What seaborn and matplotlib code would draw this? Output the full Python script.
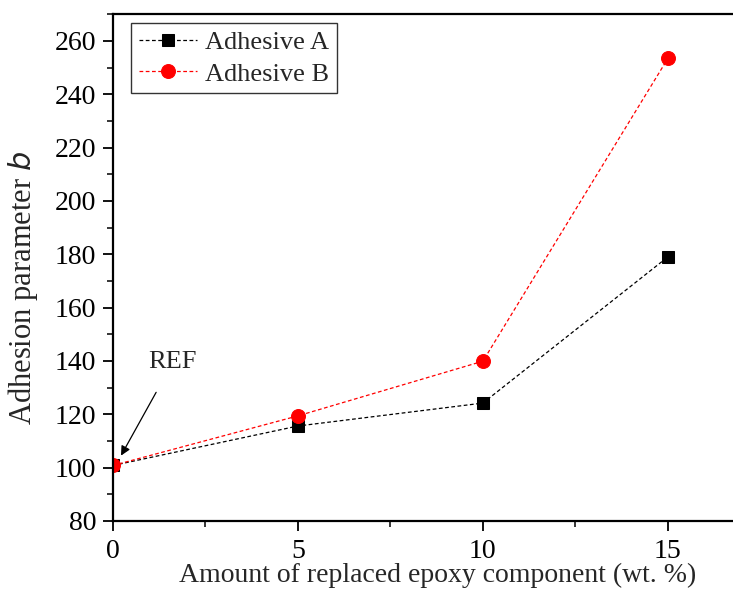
import matplotlib
matplotlib.use("Agg")
import matplotlib.pyplot as plt
from matplotlib.ticker import MultipleLocator
import seaborn as sns
import pandas as pd

# replaced epoxy content (wt. %)
amount = [0, 5, 10, 15]
adhesive_a = [100.8, 115.6, 124.2, 179.0]
adhesive_b = [100.8, 119.4, 139.9, 253.4]

sns.set_style("ticks")
plt.rcParams['font.family'] = ['Liberation Serif', 'DejaVu Serif']

df = pd.DataFrame({"amount": amount, "A": adhesive_a, "B": adhesive_b})

fig = plt.figure(figsize=(7.33, 5.9), dpi=100)
ax = fig.add_axes([0.154, 0.117, 0.846, 0.859])

sns.lineplot(data=df, x="amount", y="A", ax=ax, color="black", marker="s",
             markersize=9, markeredgecolor="black", linestyle=(0, (3, 2)),
             linewidth=0.9, label="Adhesive A")
sns.lineplot(data=df, x="amount", y="B", ax=ax, color="red", marker="o",
             markersize=10, markeredgecolor="red", linestyle=(0, (3, 2)),
             linewidth=0.9, label="Adhesive B")

ax.set_xlim(0, 16.76)
ax.set_ylim(80, 270)
ax.xaxis.set_major_locator(MultipleLocator(5))
ax.xaxis.set_minor_locator(MultipleLocator(2.5))
ax.yaxis.set_major_locator(MultipleLocator(20))
ax.yaxis.set_minor_locator(MultipleLocator(10))
ax.tick_params(which="major", direction="out", length=7, width=1.3, labelsize=20,
               colors="black", pad=5)
ax.tick_params(axis="x", which="major", pad=6)
ax.tick_params(which="minor", direction="out", length=4.5, width=1.3)
ax.tick_params(top=False, right=False)

for side in ["left", "bottom", "top"]:
    ax.spines[side].set_linewidth(1.6)
    ax.spines[side].set_color("black")
ax.spines["right"].set_visible(False)

ax.set_xlabel("Amount of replaced epoxy component (wt. %)", fontsize=20)
ax.xaxis.set_label_coords(0.524, -0.082)
ax.set_ylabel("Adhesion parameter $\\it{b}$", fontsize=22)
ax.yaxis.set_label_coords(-0.117, 0.46)

ax.annotate("REF", xy=(0.22, 104.5), xytext=(1.62, 139.5), fontsize=19,
            ha="center", va="center",
            arrowprops=dict(arrowstyle="-|>", color="black", lw=0.9,
                            shrinkA=13, shrinkB=0, mutation_scale=14))

leg = ax.legend(loc="upper left", bbox_to_anchor=(0.03, 0.983), fontsize=19,
                frameon=True, fancybox=False, edgecolor="black",
                handlelength=2.2, handletextpad=0.3, borderpad=0.3,
                labelspacing=0.3, borderaxespad=0)
leg.get_frame().set_linewidth(1.0)

fig.savefig("out.png", dpi=100)
